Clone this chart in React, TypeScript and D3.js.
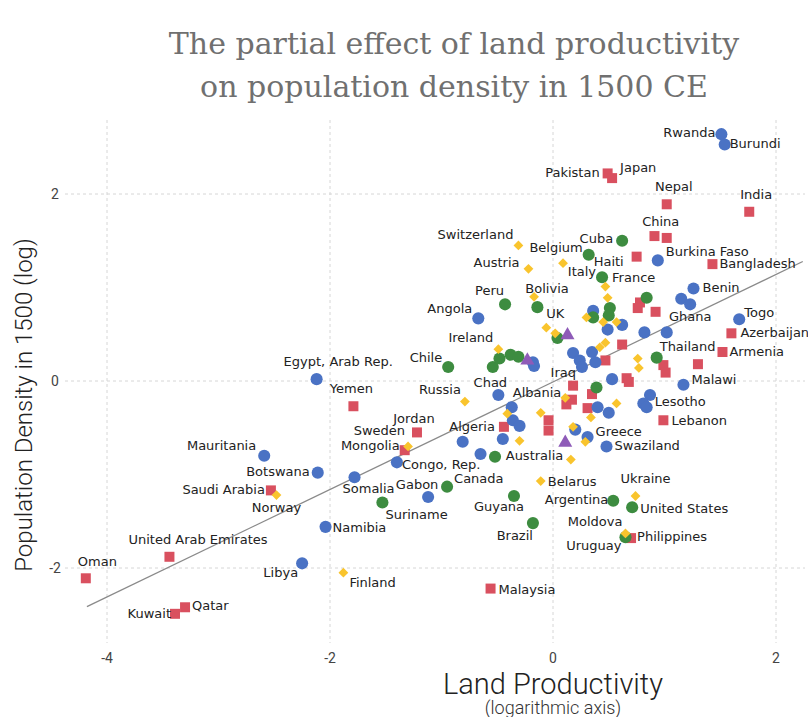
import * as d3 from 'd3';
import React from 'react';

// [country, land productivity (log), population density 1500 (log)]
type Pt = [string, number, number];

const asia: Pt[] = [
    ['Oman', -4.19, -2.11], ['United Arab Emirates', -3.44, -1.88], ['Kuwait', -3.39, -2.49],
    ['Qatar', -3.30, -2.42], ['Saudi Arabia', -2.53, -1.17], ['Yemen', -1.79, -0.27],
    ['Jordan', -1.22, -0.55], ['Mongolia', -1.33, -0.74], ['Malaysia', -0.56, -2.22],
    ['Algeria', -0.44, -0.49], ['', -0.04, -0.42], ['', -0.04, -0.53], ['', 0.12, -0.25],
    ['', 0.17, -0.20], ['', 0.18, -0.05], ['', 0.35, -0.14], ['', 0.31, -0.29],
    ['', 0.47, 0.22], ['', 0.62, 0.39], ['', 0.66, 0.03], ['', 0.68, -0.01],
    ['', 0.78, 0.84], ['', 0.76, 0.78], ['', 0.92, 0.74], ['', 0.99, 0.17],
    ['', 1.01, 0.09], ['', 1.30, 0.18], ['Lebanon', 0.99, -0.42], ['Philippines', 0.70, -1.68],
    ['Pakistan', 0.49, 2.22], ['Japan', 0.53, 2.17], ['Nepal', 1.02, 1.89], ['India', 1.76, 1.81],
    ['China', 1.02, 1.53], ['', 0.91, 1.55], ['', 0.75, 1.33], ['Bangladesh', 1.43, 1.25],
    ['Azerbaijan', 1.60, 0.51], ['Armenia', 1.52, 0.31],
];

const africa: Pt[] = [
    ['Egypt, Arab Rep.', -2.12, 0.02], ['Mauritania', -2.59, -0.80], ['Botswana', -2.11, -0.98],
    ['Somalia', -1.78, -1.03], ['Namibia', -2.04, -1.56], ['Libya', -2.25, -1.95],
    ['Congo, Rep.', -1.40, -0.87], ['Gabon', -1.12, -1.24], ['', -0.81, -0.65], ['', -0.65, -0.78],
    ['', -0.45, -0.62], ['', -0.36, -0.42], ['', -0.30, -0.48], ['Chad', -0.49, -0.15],
    ['Albania', -0.37, -0.28], ['Angola', -0.67, 0.67], ['', -0.18, 0.20], ['', -0.17, 0.16],
    ['', 0.18, 0.30], ['', 0.24, 0.22], ['Iraq', 0.26, 0.15], ['', 0.35, 0.31], ['', 0.38, 0.20],
    ['', 0.36, 0.75], ['', 0.49, 0.55], ['', 0.62, 0.60], ['', 0.82, 0.52], ['', 1.02, 0.52],
    ['', 0.53, 0.02], ['', 0.40, -0.28], ['', 0.50, -0.34], ['', 0.20, -0.52],
    ['Greece', 0.31, -0.60], ['Swaziland', 0.48, -0.70], ['', 0.87, -0.15], ['', 0.81, -0.24],
    ['Lesotho', 0.84, -0.28], ['Malawi', 1.17, -0.04], ['Burkina Faso', 0.94, 1.29],
    ['Benin', 1.26, 0.99], ['', 1.15, 0.88], ['Ghana', 1.23, 0.82], ['Togo', 1.67, 0.66],
    ['Rwanda', 1.51, 2.64], ['Burundi', 1.54, 2.53],
];

const americas: Pt[] = [
    ['Suriname', -1.53, -1.30], ['Canada', -0.95, -1.13], ['Guyana', -0.35, -1.23],
    ['Brazil', -0.18, -1.52], ['', -0.52, -0.81], ['Chile', -0.94, 0.15], ['', -0.54, 0.15],
    ['', -0.48, 0.24], ['', -0.38, 0.28], ['', -0.31, 0.26], ['Peru', -0.43, 0.82],
    ['', -0.14, 0.79], ['', 0.04, 0.46], ['Cuba', 0.62, 1.50], ['Haiti', 0.32, 1.35],
    ['France', 0.44, 1.11], ['', 0.51, 0.78], ['', 0.50, 0.70], ['', 0.36, 0.68],
    ['', 0.84, 0.89], ['Thailand', 0.93, 0.25], ['', 0.39, -0.07], ['Argentina', 0.54, -1.28],
    ['United States', 0.71, -1.35], ['Uruguay', 0.65, -1.67],
];

const europe: Pt[] = [
    ['Norway', -2.48, -1.22], ['Finland', -1.88, -2.05], ['Sweden', -1.30, -0.70],
    ['Russia', -0.79, -0.22], ['', -0.41, -0.35], ['', -0.11, -0.34], ['', -0.30, -0.64],
    ['Ireland', -0.49, 0.34], ['Switzerland', -0.31, 1.45], ['Austria', -0.22, 1.20],
    ['Belgium', 0.09, 1.26], ['Bolivia', -0.17, 0.90], ['UK', -0.06, 0.57], ['', 0.02, 0.51],
    ['', 0.47, 1.01], ['', 0.49, 0.89], ['', 0.30, 0.68], ['', 0.45, 0.63], ['', 0.57, 0.63],
    ['', 0.42, 0.36], ['', 0.47, 0.41], ['', 0.76, 0.24], ['', 0.77, 0.14], ['', 0.11, -0.18],
    ['', 0.57, -0.24], ['', 0.34, -0.39], ['', 0.18, -0.49], ['', 0.29, -0.65], ['', 0.16, -0.84],
    ['Belarus', -0.11, -1.07], ['Ukraine', 0.74, -1.23], ['Moldova', 0.65, -1.63],
];

const oceania: Pt[] = [
    ['', -0.23, 0.22], ['', 0.13, 0.49], ['Australia', 0.11, -0.66],
];

const xTicks = [-4, -2, 0, 2];
const yTicks = [-2, 0, 2];
const fitRange = [-4.18, 2.24];
const fitCoef = [-0.01, 0.575]; // intercept, slope

// label offsets from the marker: dx, dy, anchor
const labelPos: Record<string, [number, number, string]> = {
    'Oman': [-8, -12, 'start'], 'United Arab Emirates': [-41, -13, 'start'], 'Kuwait': [-4, 4, 'end'],
    'Qatar': [7, 3, 'start'], 'Saudi Arabia': [-6, 4, 'end'], 'Norway': [0, 17, 'middle'],
    'Mauritania': [-8, -6, 'end'], 'Botswana': [-8, 3, 'end'], 'Egypt, Arab Rep.': [-33, -13, 'start'],
    'Yemen': [-2, -13, 'middle'], 'Somalia': [-12, 16, 'start'], 'Sweden': [-3, -11, 'end'],
    'Mongolia': [-5, 0, 'end'], 'Jordan': [-3, -9, 'middle'], 'Congo, Rep.': [5, 7, 'start'],
    'Namibia': [7, 5, 'start'], 'Libya': [-4, 14, 'end'], 'Finland': [6, 14, 'start'],
    'Malaysia': [8, 5, 'start'], 'Suriname': [3, 16, 'start'], 'Gabon': [-11, -8, 'middle'],
    'Canada': [7, -4, 'start'], 'Guyana': [-15, 15, 'middle'], 'Brazil': [0, 17, 'end'],
    'Australia': [-2, 17, 'end'], 'Belarus': [7, 5, 'start'], 'Argentina': [-5, 3, 'end'],
    'Ukraine': [10, -13, 'middle'], 'United States': [8, 6, 'start'], 'Moldova': [-3, -7, 'end'],
    'Uruguay': [-4, 13, 'end'], 'Philippines': [6, 3, 'start'], 'Greece': [8, -1, 'start'],
    'Swaziland': [8, 4, 'start'], 'Lesotho': [8, -1, 'start'], 'Lebanon': [8, 5, 'start'],
    'Malawi': [8, -1, 'start'], 'Thailand': [3, -7, 'start'], 'Armenia': [7, 4, 'start'],
    'Azerbaijan': [9, 4, 'start'], 'Togo': [5, -2, 'start'], 'Ghana': [0, 17, 'middle'],
    'Benin': [9, 4, 'start'], 'Bangladesh': [7, 4, 'start'], 'Burkina Faso': [8, -4, 'start'],
    'China': [-6, -12, 'middle'], 'Nepal': [7, -13, 'middle'], 'India': [7, -13, 'middle'],
    'Japan': [8, -6, 'start'], 'Pakistan': [-8, 4, 'end'], 'Rwanda': [-6, 3, 'end'],
    'Burundi': [5, 4, 'start'], 'Cuba': [-9, 2, 'end'], 'Haiti': [5, 11, 'start'],
    'Belgium': [-7, -11, 'middle'], 'France': [10, 5, 'start'], 'Switzerland': [-5, -6, 'end'],
    'Austria': [-9, -2, 'end'], 'Peru': [-1, -9, 'end'], 'Bolivia': [13, -4, 'middle'],
    'Angola': [-6, -5, 'end'], 'UK': [9, -10, 'middle'], 'Ireland': [-5, -7, 'end'],
    'Chile': [-6, -5, 'end'], 'Chad': [-8, -8, 'middle'], 'Russia': [-4, -8, 'end'],
    'Albania': [1, -10, 'start'], 'Iraq': [-6, 10, 'end'], 'Algeria': [-9, 4, 'end'],
};
// Italy's label sits next to France's marker
const extraLabels: [string, string, number, number, string][] = [['Italy', 'France', -6, -1, 'end']];

const groups: { pts: Pt[]; shape: d3.SymbolType; size: number; rot: number; color: string }[] = [
    { pts: asia, shape: d3.symbolSquare, size: 100, rot: 0, color: '#d9505f' },
    { pts: africa, shape: d3.symbolCircle, size: 115, rot: 0, color: '#4a72c4' },
    { pts: americas, shape: d3.symbolCircle, size: 115, rot: 0, color: '#3d8c40' },
    { pts: europe, shape: d3.symbolSquare, size: 48, rot: 45, color: '#f9c42d' },
    { pts: oceania, shape: d3.symbolTriangle, size: 85, rot: 0, color: '#8e5bb8' },
];

const W = 808;
const H = 717;

export default function App() {
    const x = d3.scaleLinear().domain([-4, 2]).range([107, 776]);
    const y = d3.scaleLinear().domain([-2, 2]).range([568, 194]);
    const top = 120, bottom = 643, left = 65, right = 805;
    const labelFont = '"DejaVu Sans", Verdana, sans-serif';
    const axisFont = 'Roboto, "Liberation Sans", sans-serif';
    const titleFont = '"DejaVu Serif", Georgia, serif';

    const pos: Record<string, [number, number]> = {};
    groups.forEach(g => g.pts.forEach(p => { if (p[0]) pos[p[0]] = [x(p[1]), y(p[2])]; }));

    const labels: { text: string; px: number; py: number; a: string }[] = [];
    Object.keys(labelPos).forEach(k => {
        const p = pos[k];
        if (!p) return;
        const [dx, dy, a] = labelPos[k];
        labels.push({ text: k, px: p[0] + dx, py: p[1] + dy, a });
    });
    extraLabels.forEach(([t, ref, dx, dy, a]) => {
        const p = pos[ref];
        labels.push({ text: t, px: p[0] + dx, py: p[1] + dy, a });
    });

    return (
        <svg width={W} height={H} style={{ position: 'absolute', left: 0, top: 0, background: '#fff' }}>
            <text x={454} y={54} textAnchor="middle" fontFamily={titleFont}
                fontSize={30} fill="#707070">The partial effect of land productivity</text>
            <text x={454} y={97} textAnchor="middle" fontFamily={titleFont}
                fontSize={30} fill="#707070">on population density in 1500 CE</text>

            {xTicks.map(t => <line key={'gx' + t} x1={x(t)} x2={x(t)} y1={top} y2={bottom}
                stroke="#d6d6d6" strokeDasharray="3,3" />)}
            {yTicks.map(t => <line key={'gy' + t} x1={left} x2={right} y1={y(t)} y2={y(t)}
                stroke="#d6d6d6" strokeDasharray="3,3" />)}

            {xTicks.map(t => <text key={'tx' + t} x={x(t)} y={663} textAnchor="middle"
                fontFamily={axisFont} fontSize={14} fill="#444">{t}</text>)}
            {yTicks.map(t => <text key={'ty' + t} x={55} y={y(t) + 5} textAnchor="middle"
                fontFamily={axisFont} fontSize={14} fill="#444">{t}</text>)}

            <line x1={x(fitRange[0])} y1={y(fitCoef[0] + fitCoef[1] * fitRange[0])}
                x2={x(fitRange[1])} y2={y(fitCoef[0] + fitCoef[1] * fitRange[1])}
                stroke="#8a8a8a" strokeWidth={1.3} />

            {groups.map((g, gi) => g.pts.map((p, i) => (
                <path key={gi + '-' + i} d={d3.symbol().type(g.shape).size(g.size)() || ''}
                    transform={`translate(${x(p[1])},${y(p[2])}) rotate(${g.rot})`} fill={g.color} />
            )))}

            {labels.map(l => <text key={'l' + l.text} x={l.px} y={l.py} textAnchor={l.a as any}
                fontFamily={labelFont} fontSize={13} fill="#222">{l.text}</text>)}

            <text x={553} y={694} textAnchor="middle" fontFamily={axisFont} fontWeight={300}
                fontSize={29} fill="#222">Land Productivity</text>
            <text x={553} y={714} textAnchor="middle" fontFamily={axisFont} fontWeight={300}
                fontSize={18} fill="#333">(logarithmic axis)</text>
            <text transform="translate(32,405) rotate(-90)" textAnchor="middle" fontFamily={axisFont}
                fontWeight={300} fontSize={24} fill="#222">Population Density in 1500 (log)</text>
        </svg>
    );
}
